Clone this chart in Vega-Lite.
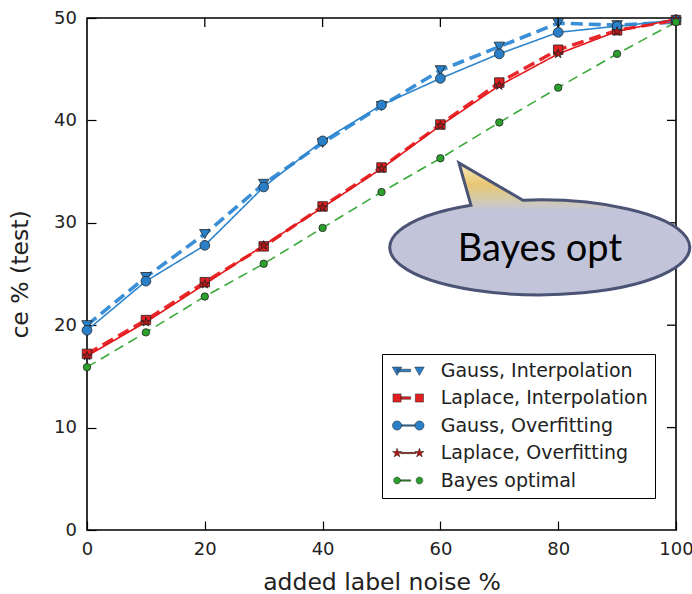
{
  "$schema": "https://vega.github.io/schema/vega-lite/v6.json",
  "width": 589,
  "height": 512,
  "padding": {"left": 8, "top": 9, "right": 2, "bottom": 0},
  "background": "white",
  "config": {
    "view": {"stroke": "#000", "strokeWidth": 1.6},
    "axis": {"grid": false, "domain": false, "labelFont": "DejaVu Sans", "titleFont": "DejaVu Sans", "labelColor": "#222", "titleColor": "#222", "tickColor": "#000", "tickWidth": 1.2, "tickSize": -9, "labelFlush": false, "titleFontWeight": "normal"}
  },
  "datasets": {
    "curves": [
      {"series": "Gauss, Interpolation", "noise": 0, "ce": 20.0},
      {"series": "Gauss, Interpolation", "noise": 10, "ce": 24.7},
      {"series": "Gauss, Interpolation", "noise": 20, "ce": 28.9},
      {"series": "Gauss, Interpolation", "noise": 30, "ce": 33.8},
      {"series": "Gauss, Interpolation", "noise": 40, "ce": 37.8},
      {"series": "Gauss, Interpolation", "noise": 50, "ce": 41.4},
      {"series": "Gauss, Interpolation", "noise": 60, "ce": 44.9},
      {"series": "Gauss, Interpolation", "noise": 70, "ce": 47.2},
      {"series": "Gauss, Interpolation", "noise": 80, "ce": 49.5},
      {"series": "Gauss, Interpolation", "noise": 90, "ce": 49.3},
      {"series": "Gauss, Interpolation", "noise": 100, "ce": 49.6},
      {"series": "Laplace, Interpolation", "noise": 0, "ce": 17.2},
      {"series": "Laplace, Interpolation", "noise": 10, "ce": 20.5},
      {"series": "Laplace, Interpolation", "noise": 20, "ce": 24.2},
      {"series": "Laplace, Interpolation", "noise": 30, "ce": 27.7},
      {"series": "Laplace, Interpolation", "noise": 40, "ce": 31.6},
      {"series": "Laplace, Interpolation", "noise": 50, "ce": 35.4},
      {"series": "Laplace, Interpolation", "noise": 60, "ce": 39.6},
      {"series": "Laplace, Interpolation", "noise": 70, "ce": 43.7},
      {"series": "Laplace, Interpolation", "noise": 80, "ce": 46.9},
      {"series": "Laplace, Interpolation", "noise": 90, "ce": 48.8},
      {"series": "Laplace, Interpolation", "noise": 100, "ce": 49.8},
      {"series": "Gauss, Overfitting", "noise": 0, "ce": 19.5},
      {"series": "Gauss, Overfitting", "noise": 10, "ce": 24.3},
      {"series": "Gauss, Overfitting", "noise": 20, "ce": 27.8},
      {"series": "Gauss, Overfitting", "noise": 30, "ce": 33.5},
      {"series": "Gauss, Overfitting", "noise": 40, "ce": 38.0},
      {"series": "Gauss, Overfitting", "noise": 50, "ce": 41.5},
      {"series": "Gauss, Overfitting", "noise": 60, "ce": 44.1},
      {"series": "Gauss, Overfitting", "noise": 70, "ce": 46.5},
      {"series": "Gauss, Overfitting", "noise": 80, "ce": 48.6},
      {"series": "Gauss, Overfitting", "noise": 90, "ce": 49.2},
      {"series": "Gauss, Overfitting", "noise": 100, "ce": 49.8},
      {"series": "Laplace, Overfitting", "noise": 0, "ce": 17.0},
      {"series": "Laplace, Overfitting", "noise": 10, "ce": 20.3},
      {"series": "Laplace, Overfitting", "noise": 20, "ce": 24.0},
      {"series": "Laplace, Overfitting", "noise": 30, "ce": 27.8},
      {"series": "Laplace, Overfitting", "noise": 40, "ce": 31.5},
      {"series": "Laplace, Overfitting", "noise": 50, "ce": 35.3},
      {"series": "Laplace, Overfitting", "noise": 60, "ce": 39.5},
      {"series": "Laplace, Overfitting", "noise": 70, "ce": 43.4},
      {"series": "Laplace, Overfitting", "noise": 80, "ce": 46.5},
      {"series": "Laplace, Overfitting", "noise": 90, "ce": 48.7},
      {"series": "Laplace, Overfitting", "noise": 100, "ce": 49.9},
      {"series": "Bayes optimal", "noise": 0, "ce": 15.9},
      {"series": "Bayes optimal", "noise": 10, "ce": 19.3},
      {"series": "Bayes optimal", "noise": 20, "ce": 22.8},
      {"series": "Bayes optimal", "noise": 30, "ce": 26.0},
      {"series": "Bayes optimal", "noise": 40, "ce": 29.5},
      {"series": "Bayes optimal", "noise": 50, "ce": 33.0},
      {"series": "Bayes optimal", "noise": 60, "ce": 36.3},
      {"series": "Bayes optimal", "noise": 70, "ce": 39.8},
      {"series": "Bayes optimal", "noise": 80, "ce": 43.2},
      {"series": "Bayes optimal", "noise": 90, "ce": 46.5},
      {"series": "Bayes optimal", "noise": 100, "ce": 49.6}
    ],
    "callout": [
      {"noise": 76.9, "ce": 27.6, "label": "Bayes opt"}
    ],
    "xticks": [{"v": 20}, {"v": 40}, {"v": 60}, {"v": 80}],
    "yticks": [{"v": 10}, {"v": 20}, {"v": 30}, {"v": 40}]
  },
  "layer": [
    {
      "data": {"name": "curves"},
      "mark": {"type": "line", "strokeCap": "butt"},
      "encoding": {
        "x": {"field": "noise", "type": "quantitative", "scale": {"domain": [0, 100], "nice": false},
              "axis": {"orient": "bottom", "values": [0, 20, 40, 60, 80, 100], "title": "added label noise %", "labelFontSize": 18, "labelPadding": 19, "titleFontSize": 23.5, "titlePadding": 12}},
        "y": {"field": "ce", "type": "quantitative", "scale": {"domain": [0, 50], "nice": false},
              "axis": {"orient": "left", "values": [0, 10, 20, 30, 40, 50], "title": "ce % (test)", "labelFontSize": 18, "labelPadding": 19.5, "titleFontSize": 23.5, "titlePadding": 21}},
        "detail": {"field": "series"},
        "stroke": {"field": "series", "type": "nominal", "legend": null,
                   "scale": {"domain": ["Gauss, Interpolation", "Laplace, Interpolation", "Gauss, Overfitting", "Laplace, Overfitting", "Bayes optimal"],
                             "range": ["#3a8fd6", "#e8282a", "#2f85cc", "#e31a1c", "#3aaa3a"]}},
        "strokeDash": {"field": "series", "type": "nominal", "legend": null,
                       "scale": {"domain": ["Gauss, Interpolation", "Laplace, Interpolation", "Gauss, Overfitting", "Laplace, Overfitting", "Bayes optimal"],
                                 "range": [[12, 6], [12, 6], [1, 0], [1, 0], [10, 6]]}},
        "strokeWidth": {"field": "series", "type": "nominal", "legend": null,
                        "scale": {"type": "ordinal", "domain": ["Gauss, Interpolation", "Laplace, Interpolation", "Gauss, Overfitting", "Laplace, Overfitting", "Bayes optimal"],
                                  "range": [3.6, 3.4, 1.6, 1.6, 1.6]}}
      }
    },
    {
      "data": {"name": "curves"},
      "mark": {"type": "point", "filled": true, "opacity": 1, "stroke": "#222", "strokeWidth": 0.8},
      "encoding": {
        "x": {"field": "noise", "type": "quantitative"},
        "y": {"field": "ce", "type": "quantitative"},
        "fill": {"field": "series", "type": "nominal", "sort": null,
                 "scale": {"range": ["#2a80c8", "#e02020", "#2a80c8", "#b01818", "#2ca02c"]},
                 "legend": {
                   "title": null, "orient": "none", "legendX": 295, "legendY": 336,
                   "padding": 7, "strokeColor": "#000", "fillColor": "#fff",
                   "labelFont": "DejaVu Sans", "labelFontSize": 19, "labelColor": "#222", "labelLimit": 400,
                   "symbolSize": 64, "symbolOffset": 9.75, "labelOffset": 23, "rowPadding": 7.5,
                   "symbolStrokeWidth": 0.5,
                   "symbolType": {"expr": "datum.value === 'Gauss, Interpolation' ? 'M-3.99,-0.86 L-1.61,-0.86 L-2.8,1.24 Z M-2.8,-0.32 H0.6 V0.32 H-2.8 Z M1.61,-0.86 L3.99,-0.86 L2.8,1.24 Z' : datum.value === 'Laplace, Interpolation' ? 'M-3.82,-1.02 H-1.78 V1.02 H-3.82 Z M-1.78,-0.32 H0.6 V0.32 H-1.78 Z M1.78,-1.02 H3.82 V1.02 H1.78 Z' : datum.value === 'Gauss, Overfitting' ? 'M-3.95,0 A1.15,1.15 0 1,0 -1.65,0 A1.15,1.15 0 1,0 -3.95,0 Z M-1.65,-0.16 H1.65 V0.16 H-1.65 Z M1.65,0 A1.15,1.15 0 1,0 3.95,0 A1.15,1.15 0 1,0 1.65,0 Z' : datum.value === 'Laplace, Overfitting' ? 'M-2.8,-1.2 L-2.518,-0.388 L-1.659,-0.371 L-2.343,0.148 L-2.095,0.971 L-2.8,0.48 L-3.505,0.971 L-3.257,0.148 L-3.941,-0.371 L-3.082,-0.388 Z M-1.9,-0.16 H1.9 V0.16 H-1.9 Z M2.8,-1.2 L3.082,-0.388 L3.941,-0.371 L3.257,0.148 L3.505,0.971 L2.8,0.48 L2.095,0.971 L2.343,0.148 L1.659,-0.371 L2.518,-0.388 Z' : 'M-3.65,0 A0.85,0.85 0 1,0 -1.95,0 A0.85,0.85 0 1,0 -3.65,0 Z M-1.95,-0.16 H0.6 V0.16 H-1.95 Z M1.95,0 A0.85,0.85 0 1,0 3.65,0 A0.85,0.85 0 1,0 1.95,0 Z'"},
                   "encode": {
                     "legend": {"strokeWidth": {"value": 1.5}},
                     "symbols": {
                       "stroke": {"value": {"expr": "scale('fill', datum.value)"}},
                       "opacity": {"value": 1}
                     }
                   }
                 }},
        "shape": {"field": "series", "type": "nominal", "legend": null,
                  "scale": {"domain": ["Gauss, Interpolation", "Laplace, Interpolation", "Gauss, Overfitting", "Laplace, Overfitting", "Bayes optimal"],
                            "range": ["triangle-down", "square", "circle", "M0,-1 L0.235,-0.324 L0.951,-0.309 L0.380,0.124 L0.588,0.809 L0,0.4 L-0.588,0.809 L-0.380,0.124 L-0.951,-0.309 L-0.235,-0.324 Z", "circle"]}},
        "size": {"field": "series", "type": "nominal", "legend": null,
                 "scale": {"type": "ordinal", "domain": ["Gauss, Interpolation", "Laplace, Interpolation", "Gauss, Overfitting", "Laplace, Overfitting", "Bayes optimal"],
                           "range": [110, 90, 95, 90, 55]}}
      }
    },
    {
      "data": {"name": "xticks"},
      "mark": {"type": "rule", "color": "#000", "strokeWidth": 1.3},
      "encoding": {
        "x": {"field": "v", "type": "quantitative"},
        "y": {"datum": 50},
        "y2": {"datum": 49.12}
      }
    },
    {
      "data": {"name": "yticks"},
      "mark": {"type": "rule", "color": "#000", "strokeWidth": 1.3},
      "encoding": {
        "y": {"field": "v", "type": "quantitative"},
        "x": {"datum": 100},
        "x2": {"datum": 98.47}
      }
    },
    {
      "data": {"name": "callout"},
      "mark": {"type": "point", "filled": true, "opacity": 1, "size": 90000,
               "shape": "M-0.1133,-0.3146 A1,0.3167 0 1,1 -0.46,-0.2813 L-0.54,-0.563 Z",
               "fill": {"gradient": "linear", "x1": 0, "y1": 0, "x2": 0, "y2": 1,
                        "stops": [{"offset": 0, "color": "#f7ecc0"}, {"offset": 0.16, "color": "#e8c772"}, {"offset": 0.27, "color": "#d6cba8"}, {"offset": 0.36, "color": "#c2c5d9"}, {"offset": 1, "color": "#c2c5d9"}]},
               "stroke": "#4b5475", "strokeWidth": 3, "strokeJoin": "miter"},
      "encoding": {
        "x": {"field": "noise", "type": "quantitative"},
        "y": {"field": "ce", "type": "quantitative"}
      }
    },
    {
      "data": {"name": "callout"},
      "mark": {"type": "text", "font": "Lato", "fontSize": 38, "color": "#000", "align": "center", "baseline": "alphabetic", "dy": 14},
      "encoding": {
        "x": {"field": "noise", "type": "quantitative"},
        "y": {"field": "ce", "type": "quantitative"},
        "text": {"field": "label"}
      }
    }
  ]
}
